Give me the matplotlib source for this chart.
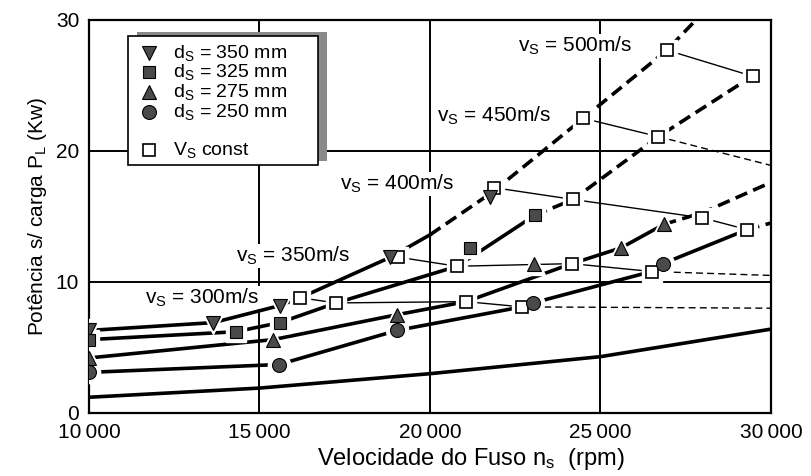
import numpy as np
import matplotlib
matplotlib.use('Agg')
import matplotlib.pyplot as plt
from matplotlib.patches import Rectangle

plt.rcParams['font.family'] = ['Liberation Sans', 'DejaVu Sans']
plt.rcParams['mathtext.default'] = 'regular'

# measured points per grinding wheel diameter (filled markers)
n_350 = [10000, 13650, 15600, 18830, 21760]
p_350 = [6.3, 6.9, 8.2, 11.9, 16.5]
n_325 = [10000, 14300, 15600, 21170, 23080]
p_325 = [5.6, 6.2, 6.9, 12.6, 15.1]
n_275 = [10000, 15400, 19030, 23050, 25600, 26860]
p_275 = [4.2, 5.6, 7.5, 11.4, 12.6, 14.4]
n_250 = [10000, 15570, 19030, 23020, 26830]
p_250 = [3.1, 3.7, 6.3, 8.4, 11.4]

# fitted curves (solid) and extrapolation (dashed) per diameter
c350_n = [10000, 13650, 15600, 16200, 18850, 20000]
c350_p = [6.3, 6.9, 8.2, 8.8, 11.9, 13.6]
e350_n = [20000, 21800, 24500, 26950, 27800]
e350_p = [13.6, 16.8, 22.5, 27.7, 30.0]
c325_n = [10000, 14300, 15600, 17250, 20800, 23080]
c325_p = [5.6, 6.2, 6.9, 8.4, 11.2, 15.1]
e325_n = [23080, 24200, 26700, 29450]
e325_p = [15.1, 16.3, 21.1, 25.7]
c275_n = [10000, 15400, 19030, 21060, 24160, 25600, 26860]
c275_p = [4.2, 5.6, 7.5, 8.5, 11.4, 12.6, 14.4]
e275_n = [26860, 28000, 30000]
e275_p = [14.4, 15.3, 17.6]
c250_n = [10000, 15570, 19030, 22700, 23020, 26500, 26830, 29300]
c250_p = [3.1, 3.7, 6.3, 8.1, 8.4, 10.8, 11.4, 14.0]
e250_n = [29300, 30000]
e250_p = [14.0, 14.5]

# lowest curve without markers
base_n = [10000, 15000, 20000, 25000, 30000]
base_p = [1.2, 1.9, 3.0, 4.3, 6.4]

# constant peripheral speed lines (open squares)
v300_n = [16190, 17240, 21060, 22700]
v300_p = [8.8, 8.4, 8.5, 8.1]
v300_ext = [8.1, 8.0]
v350_n = [19060, 20790, 24160, 26500]
v350_p = [11.9, 11.2, 11.4, 10.8]
v350_ext = [10.8, 10.5]
v400_n = [21880, 24200, 27980, 29300]
v400_p = [17.2, 16.3, 14.9, 14.0]
v450_n = [24490, 26690]
v450_p = [22.5, 21.1]
v450_ext = [21.1, 18.9]
v500_n = [26950, 29470]
v500_p = [27.7, 25.7]

vs_labels = ['300', '350', '400', '450', '500']
vs_label_n = [13330, 15980, 19050, 21880, 24250]
vs_label_p = [8.8, 12.0, 17.5, 22.7, 28.0]

legend_labels = ['d$_S$ = 350 mm', 'd$_S$ = 325 mm', 'd$_S$ = 275 mm', 'd$_S$ = 250 mm']

fig = plt.figure(figsize=(8.11, 4.76), dpi=100)
ax = fig.add_axes([0.1097, 0.1324, 0.8409, 0.8256])

thick = 2.6
thin = 1.0
fill = '#4a4a4a'
markers = [('v', 10), ('s', 9), ('^', 10), ('o', 10)]

ax.plot(base_n, base_p, color='black', lw=thick, zorder=3)
for cn, cp, en, ep in [(c350_n, c350_p, e350_n, e350_p),
                       (c325_n, c325_p, e325_n, e325_p),
                       (c275_n, c275_p, e275_n, e275_p),
                       (c250_n, c250_p, e250_n, e250_p)]:
    ax.plot(cn, cp, color='black', lw=thick, zorder=3)
    ax.plot(en, ep, color='black', lw=thick, ls=(0, (3.5, 1.8)), zorder=3)

v_lines = [(v300_n, v300_p), (v350_n, v350_p), (v400_n, v400_p),
           (v450_n, v450_p), (v500_n, v500_p)]
for vn, vp in v_lines:
    ax.plot(vn, vp, color='black', lw=thin, zorder=3)
for vn, ext in [(v300_n, v300_ext), (v350_n, v350_ext), (v450_n, v450_ext)]:
    ax.plot([vn[-1], 30000], ext, color='black', lw=thin, ls=(0, (5, 3)), zorder=3)

# markers with a white halo so the lines break around them
for (n, p), (m, ms) in zip([(n_350, p_350), (n_325, p_325), (n_275, p_275), (n_250, p_250)], markers):
    ax.plot(n, p, ls='none', marker=m, ms=ms + 6, mfc='white', mec='white', zorder=4)
    ax.plot(n, p, ls='none', marker=m, ms=ms, mfc=fill, mec='black', mew=0.8, zorder=6)

for vn, vp in v_lines:
    ax.plot(vn, vp, ls='none', marker='s', ms=14, mfc='white', mec='white', zorder=4)
    ax.plot(vn, vp, ls='none', marker='s', ms=9, mfc='white', mec='black', mew=1.2, zorder=5)

for lab, ln, lp in zip(vs_labels, vs_label_n, vs_label_p):
    ax.text(ln, lp, 'v$_S$ = ' + lab + 'm/s', fontsize=15, ha='center', va='center',
            zorder=7, bbox=dict(facecolor='white', edgecolor='none', pad=0.5))

ax.set_xlim(10000, 30000)
ax.set_ylim(0, 30)
ax.set_xticks([10000, 15000, 20000, 25000, 30000])
ax.set_xticklabels(['10\u2009000', '15\u2009000', '20\u2009000', '25\u2009000', '30\u2009000'])
ax.set_yticks([0, 10, 20, 30])
ax.tick_params(length=0, labelsize=15, pad=7)
ax.grid(True, color='black', lw=1.4)
ax.set_axisbelow(True)
for s in ax.spines.values():
    s.set_linewidth(1.6)

ax.set_xlabel('Velocidade do Fuso n$_s$  (rpm)', fontsize=17)
ax.xaxis.set_label_coords(0.56, -0.085)
ax.set_ylabel('Potência s/ carga P$_L$ (Kw)', fontsize=15)
ax.yaxis.set_label_coords(-0.058, 0.5)

# legend box drawn by hand, with its shadow to the upper right
tr = ax.transAxes
ax.add_patch(Rectangle((0.0704, 0.6412), 0.2786, 0.3283, transform=tr,
                       facecolor='#8a8a8a', edgecolor='none', zorder=9, clip_on=False))
ax.add_patch(Rectangle((0.0572, 0.6310), 0.2786, 0.3283, transform=tr,
                       facecolor='white', edgecolor='black', lw=1.2, zorder=10, clip_on=False))
row_y = [0.9160, 0.8677, 0.8168, 0.7659]
for (m, ms), yy, lab in zip(markers, row_y, legend_labels):
    ax.plot([0.088], [yy], transform=tr, ls='none', marker=m, ms=ms, mfc=fill,
            mec='black', mew=0.8, zorder=11, clip_on=False)
    ax.text(0.1232, yy, lab, transform=tr, fontsize=14, va='center', zorder=11)
ax.plot([0.088], [0.6692], transform=tr, ls='none', marker='s', ms=9, mfc='white',
        mec='black', mew=1.2, zorder=11, clip_on=False)
ax.text(0.1232, 0.6692, 'V$_S$ const', transform=tr, fontsize=14, va='center', zorder=11)

fig.savefig('out.png', dpi=100)
